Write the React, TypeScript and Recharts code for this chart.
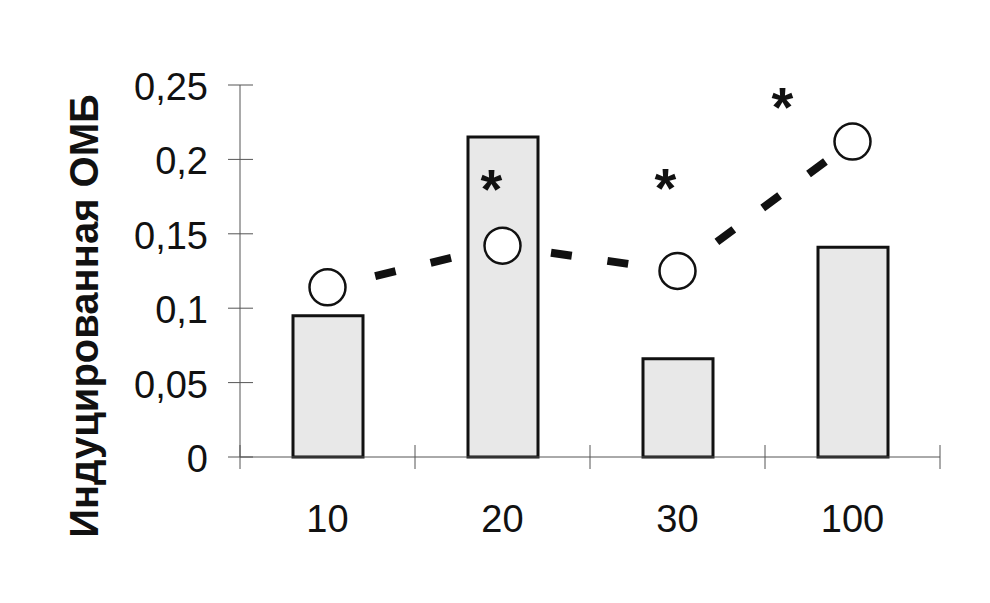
import { ComposedChart, Bar, Line, Scatter, XAxis, YAxis, Label } from 'recharts';

const doses = ['10', '20', '30', '100'];
const barValues = [0.095, 0.215, 0.066, 0.141];
const circleValues = [0.114, 0.142, 0.125, 0.212];
const starValues: (number | null)[] = [null, 0.188, 0.189, 0.243];
const yTicks = [0, 0.05, 0.1, 0.15, 0.2, 0.25];
const yLabel = 'Индуцированная ОМБ';

// horizontal nudge of each asterisk away from its category centre
const STAR_DX: Record<string, number> = { '20': -11, '30': -12, '100': -70 };

const FONT = '"Liberation Sans", Arial, sans-serif';
const AXIS = '#555';
const W = 990;
const H = 603;
const Y_AXIS_W = 100;
const MARGIN = { top: 85, right: 50, bottom: 86, left: 140 };
const BAND = (W - MARGIN.left - Y_AXIS_W - MARGIN.right) / doses.length;

const data = doses.map((dose, i) => {
  const row: Record<string, string | number | null> = {
    dose,
    bar: barValues[i],
    omb: circleValues[i],
    star: starValues[i],
  };
  // one dashed piece per gap, so the dash pattern restarts at every point
  for (let s = 0; s < doses.length - 1; s++) {
    row[`seg${s}`] = i === s || i === s + 1 ? circleValues[i] : null;
  }
  return row;
});

function XTick(props: any) {
  const { x, y, payload, index } = props;
  const last = index === doses.length - 1;
  return (
    <g>
      <line x1={x - BAND / 2} x2={x - BAND / 2} y1={y - 12} y2={y + 12} stroke={AXIS} />
      {last && <line x1={x + BAND / 2} x2={x + BAND / 2} y1={y - 12} y2={y + 12} stroke={AXIS} />}
      <text x={x} y={y + 75} textAnchor="middle" fontSize={38} fontFamily={FONT} fill="#111">
        {payload.value}
      </text>
    </g>
  );
}

function YTick(props: any) {
  const { x, y, payload } = props;
  return (
    <g>
      <line x1={x - 12} x2={x + 13} y1={y} y2={y} stroke={AXIS} />
      <text x={x - 32} y={y + 15} textAnchor="end" fontSize={38} fontFamily={FONT} fill="#111">
        {String(payload.value).replace('.', ',')}
      </text>
    </g>
  );
}

const Ring = (p: any) => (
  <circle cx={p.cx} cy={p.cy} r={18} fill="#fff" stroke="#111" strokeWidth={2.5} />
);

const Star = (p: any) => {
  if (p.payload?.star == null || !Number.isFinite(p.cy)) return <g />;
  return (
    <text
      x={p.cx + (STAR_DX[p.payload.dose] ?? 0)}
      y={p.cy + 31}
      textAnchor="middle"
      fontSize={56}
      fontWeight="bold"
      fontFamily={FONT}
      fill="#111"
    >
      *
    </text>
  );
};

export default function App() {
  return (
    <div style={{ position: 'absolute', left: 0, top: 0, width: W, height: H, background: '#fff' }}>
      <ComposedChart width={W} height={H} data={data} margin={MARGIN}>
        <XAxis
          dataKey="dose"
          height={60}
          axisLine={{ stroke: AXIS }}
          tickLine={false}
          tickSize={0}
          tickMargin={0}
          tick={<XTick />}
          interval={0}
        />
        <YAxis
          width={Y_AXIS_W}
          domain={[0, 0.25]}
          ticks={yTicks}
          axisLine={{ stroke: AXIS }}
          tickLine={false}
          tickSize={0}
          tickMargin={0}
          tick={<YTick />}
          interval={0}
        >
          <Label
            content={() => (
              <text
                x={98}
                y={316}
                transform="rotate(-90 98 316)"
                textAnchor="middle"
                fontSize={40}
                fontWeight="bold"
                fontFamily={FONT}
                fill="#111"
              >
                {yLabel}
              </text>
            )}
          />
        </YAxis>
        <Bar dataKey="bar" barSize={70} fill="#e8e8e8" stroke="#111" strokeWidth={3} isAnimationActive={false} />
        {doses.slice(1).map((_, s) => (
          <Line
            key={s}
            dataKey={`seg${s}`}
            stroke="#111"
            strokeWidth={8}
            strokeDasharray="21 36"
            strokeDashoffset={8}
            dot={false}
            activeDot={false}
            connectNulls={false}
            isAnimationActive={false}
          />
        ))}
        <Scatter dataKey="omb" shape={<Ring />} isAnimationActive={false} />
        <Scatter dataKey="star" shape={<Star />} isAnimationActive={false} />
      </ComposedChart>
    </div>
  );
}
